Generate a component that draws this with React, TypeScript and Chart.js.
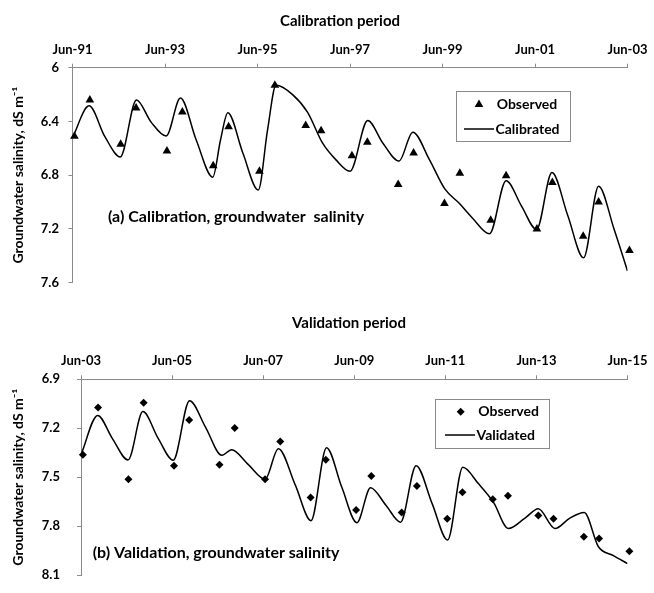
import React, { useEffect, useRef } from 'react';
import { Chart, registerables } from 'chart.js';

Chart.register(...registerables);

// ---------- data ----------
const calTickLabels = ['Jun-91', 'Jun-93', 'Jun-95', 'Jun-97', 'Jun-99', 'Jun-01', 'Jun-03'];
const valTickLabels = ['Jun-03', 'Jun-05', 'Jun-07', 'Jun-09', 'Jun-11', 'Jun-13', 'Jun-15'];

// months since the first June of each panel (observations: June & October)
const obsMonths = [0.5, 4.5, 12.5, 16.5, 24.5, 28.5, 36.5, 40.5, 48.5, 52.5, 60.5, 64.5, 72.5, 76.5, 84.5, 88.5, 96.5, 100.5, 108.5, 112.5, 120.5, 124.5, 132.5, 136.5, 144.5];

const calObserved = [6.51, 6.24, 6.57, 6.30, 6.62, 6.33, 6.73, 6.44, 6.77, 6.13, 6.43, 6.47, 6.655, 6.555, 6.87, 6.635, 7.01, 6.785, 7.135, 6.805, 7.20, 6.855, 7.255, 7.00, 7.36];

const calSimMonths = [0, 4.3, 8.4, 12.4, 16.6, 20.4, 24.3, 28, 32.1, 36.4, 38.4, 40.3, 44.2, 48.2, 50.6, 52.8, 57.1, 61, 64.9, 68.3, 72, 76.6, 80.5, 84.7, 88.3, 92.6, 96.6, 100.4, 103.8, 108.2, 112.5, 116.5, 120.4, 124.4, 128.5, 132.6, 136.5, 140.5, 144];
const calSimValues = [6.52, 6.284, 6.513, 6.664, 6.24, 6.405, 6.509, 6.225, 6.538, 6.815, 6.538, 6.335, 6.635, 6.911, 6.465, 6.131, 6.20, 6.332, 6.562, 6.684, 6.771, 6.393, 6.56, 6.695, 6.48, 6.684, 6.902, 7.011, 7.12, 7.236, 6.841, 7.03, 7.204, 6.78, 7.10, 7.415, 6.882, 7.20, 7.513];

const valObserved = [7.362, 7.073, 7.512, 7.043, 7.429, 7.15, 7.423, 7.198, 7.512, 7.281, 7.624, 7.393, 7.70, 7.493, 7.716, 7.554, 7.754, 7.592, 7.635, 7.614, 7.735, 7.754, 7.864, 7.875, 7.954];

const valSimMonths = [0, 4.4, 8.2, 12.4, 16.3, 20.3, 24.3, 28.6, 32.8, 37.1, 39.7, 44.1, 48.5, 52, 56.5, 60.6, 64.7, 68.7, 72.7, 76.3, 80.3, 84.2, 88.3, 92.5, 96.6, 100.6, 104.7, 108.7, 112.6, 117, 120.5, 124.9, 128.8, 132.6, 136.3, 140.4, 144];
const valSimValues = [7.362, 7.121, 7.26, 7.394, 7.098, 7.26, 7.396, 7.031, 7.193, 7.366, 7.331, 7.423, 7.512, 7.325, 7.55, 7.766, 7.319, 7.56, 7.778, 7.564, 7.67, 7.775, 7.429, 7.66, 7.885, 7.439, 7.539, 7.654, 7.814, 7.75, 7.693, 7.814, 7.75, 7.716, 7.924, 7.981, 8.029];

// ---------- styling ----------
const FONT = 'Lato, "Open Sans", sans-serif';
const AXIS_GREY = '#8a8a8a';

type Overlay = {
  title: string; titleX: number; titleY: number;
  note: string; noteX: number; noteY: number;
  box: [number, number, number, number];
  obsLabel: string; simLabel: string;
  markerX: number; markerY: number; obsTextX: number;
  lineX1: number; lineX2: number; lineY: number; simTextX: number;
  marker: 'triangle' | 'diamond';
};

const overlayPlugin = {
  id: 'overlay',
  afterDraw(chart: any, _args: any, o: Overlay) {
    const ctx = chart.ctx as CanvasRenderingContext2D;
    ctx.save();
    ctx.fillStyle = '#000';
    ctx.textBaseline = 'middle';
    // panel title
    ctx.font = `bold 15px ${FONT}`;
    ctx.textAlign = 'center';
    ctx.fillText(o.title, o.titleX, o.titleY);
    // annotation
    ctx.font = `bold 16px ${FONT}`;
    ctx.textAlign = 'left';
    ctx.fillText(o.note, o.noteX, o.noteY);
    // legend box
    const [x1, y1, x2, y2] = o.box;
    ctx.fillStyle = '#fff';
    ctx.fillRect(x1, y1, x2 - x1, y2 - y1);
    ctx.strokeStyle = AXIS_GREY;
    ctx.lineWidth = 1;
    ctx.strokeRect(Math.round(x1) + 0.5, Math.round(y1) + 0.5, Math.round(x2 - x1), Math.round(y2 - y1));
    ctx.fillStyle = '#000';
    ctx.beginPath();
    if (o.marker === 'triangle') {
      const r = 5;
      ctx.moveTo(o.markerX, o.markerY - r);
      ctx.lineTo(o.markerX + r * 0.866, o.markerY + r * 0.5);
      ctx.lineTo(o.markerX - r * 0.866, o.markerY + r * 0.5);
    } else {
      const r = 4;
      ctx.moveTo(o.markerX, o.markerY - r);
      ctx.lineTo(o.markerX + r, o.markerY);
      ctx.lineTo(o.markerX, o.markerY + r);
      ctx.lineTo(o.markerX - r, o.markerY);
    }
    ctx.closePath();
    ctx.fill();
    ctx.font = `bold 14px ${FONT}`;
    ctx.fillText(o.obsLabel, o.obsTextX, o.markerY);
    ctx.strokeStyle = '#000';
    ctx.lineWidth = 1.5;
    ctx.beginPath();
    ctx.moveTo(o.lineX1, o.lineY);
    ctx.lineTo(o.lineX2, o.lineY);
    ctx.stroke();
    ctx.fillText(o.simLabel, o.simTextX, o.lineY);
    ctx.restore();
  },
};

type PanelProps = {
  top: number;
  height: number;
  tickLabels: string[];
  observed: number[];
  simMonths: number[];
  simValues: number[];
  yMin: number; yMax: number; yStep: number;
  yAxisWidth: number; yLabelPad: number;
  xAxisHeight: number; rightPad: number; bottomPad: number;
  pointStyle: string; pointRadius: number;
  overlay: Overlay;
};

function Panel(p: PanelProps) {
  const ref = useRef<HTMLCanvasElement>(null);
  useEffect(() => {
    if (!ref.current) return;
    const chart = new Chart(ref.current, {
      type: 'scatter',
      data: {
        datasets: [
          {
            type: 'line',
            label: p.overlay.simLabel,
            data: p.simMonths.map((m, i) => ({ x: m, y: p.simValues[i] })),
            borderColor: '#000',
            borderWidth: 1.5,
            pointRadius: 0,
            cubicInterpolationMode: 'monotone',
            fill: false,
            order: 2,
          } as any,
          {
            type: 'scatter',
            label: p.overlay.obsLabel,
            data: obsMonths.map((m, i) => ({ x: m, y: p.observed[i] })),
            pointStyle: p.pointStyle as any,
            pointRadius: p.pointRadius,
            backgroundColor: '#000',
            borderColor: '#000',
            borderWidth: 0,
            clip: false,
            order: 1,
          } as any,
        ],
      },
      options: {
        animation: false,
        responsive: false,
        maintainAspectRatio: false,
        devicePixelRatio: 1,
        layout: { padding: { left: 0, top: 0, right: p.rightPad, bottom: p.bottomPad } },
        plugins: {
          legend: { display: false },
          tooltip: { enabled: false },
          title: { display: false },
          overlay: p.overlay as any,
        } as any,
        scales: {
          x: {
            type: 'linear',
            position: 'top',
            min: 0,
            max: 144,
            afterFit: (s: any) => { s.height = p.xAxisHeight; },
            border: { display: true, color: AXIS_GREY, width: 1 },
            grid: { display: true, drawOnChartArea: false, drawTicks: true, tickLength: 4, color: AXIS_GREY },
            ticks: {
              stepSize: 24,
              padding: 6.5,
              color: '#000',
              maxRotation: 0,
              autoSkip: false,
              font: { family: FONT, size: 13, weight: 'bold' },
              callback: (v: any) => p.tickLabels[Math.round(Number(v) / 24)] ?? '',
            },
          },
          y: {
            type: 'linear',
            reverse: true,
            min: p.yMin,
            max: p.yMax,
            afterFit: (s: any) => { s.width = p.yAxisWidth; },
            border: { display: true, color: AXIS_GREY, width: 1 },
            grid: { display: true, drawOnChartArea: false, drawTicks: true, tickLength: 4, color: AXIS_GREY },
            title: {
              display: true,
              text: 'Groundwater salinity, dS m\u207B\u00B9',
              color: '#000',
              font: { family: FONT, size: 14, weight: 'bold' },
              padding: { top: 10, bottom: 0 },
            },
            ticks: {
              stepSize: p.yStep,
              padding: p.yLabelPad,
              color: '#000',
              font: { family: FONT, size: 13, weight: 'bold' },
              callback: (v: any) => String(Number(Number(v).toFixed(1))),
            },
          },
        },
      } as any,
      plugins: [overlayPlugin as any],
    });
    return () => chart.destroy();
  }, []);
  return (
    <canvas
      ref={ref}
      width={654}
      height={p.height}
      style={{ position: 'absolute', left: 0, top: p.top, width: 654, height: p.height, display: 'block' }}
    />
  );
}

export default function App() {
  return (
    <div style={{ position: 'fixed', left: 0, top: 0, width: 654, height: 593, overflow: 'hidden', background: '#fff' }}>
      <Panel
        top={0}
        height={300}
        tickLabels={calTickLabels}
        observed={calObserved}
        simMonths={calSimMonths}
        simValues={calSimValues}
        yMin={6}
        yMax={7.6}
        yStep={0.4}
        yAxisWidth={72.5}
        yLabelPad={9.5}
        xAxisHeight={67.7}
        rightPad={25.7}
        bottomPad={12.3}
        pointStyle="triangle"
        pointRadius={5}
        overlay={{
          title: 'Calibration period', titleX: 340, titleY: 20.7,
          note: '(a) Calibration, groundwater  salinity', noteX: 108, noteY: 216.7,
          box: [456, 91, 570, 141],
          obsLabel: 'Observed', simLabel: 'Calibrated',
          markerX: 479, markerY: 104.5, obsTextX: 496.7,
          lineX1: 464, lineX2: 494, lineY: 129, simTextX: 495.5,
          marker: 'triangle',
        }}
      />
      <Panel
        top={300}
        height={300}
        tickLabels={valTickLabels}
        observed={valObserved}
        simMonths={valSimMonths}
        simValues={valSimValues}
        yMin={6.9}
        yMax={8.1}
        yStep={0.3}
        yAxisWidth={81}
        yLabelPad={17}
        xAxisHeight={79.3}
        rightPad={24.7}
        bottomPad={12.7}
        pointStyle="rectRot"
        pointRadius={4}
        overlay={{
          title: 'Validation period', titleX: 349, titleY: 23.3,
          note: '(b) Validation, groundwater salinity', noteX: 92.7, noteY: 253.3,
          box: [435, 98.7, 549, 147.3],
          obsLabel: 'Observed', simLabel: 'Validated',
          markerX: 460.7, markerY: 111.7, obsTextX: 478.3,
          lineX1: 445, lineX2: 475, lineY: 135, simTextX: 476.5,
          marker: 'diamond',
        }}
      />
    </div>
  );
}
